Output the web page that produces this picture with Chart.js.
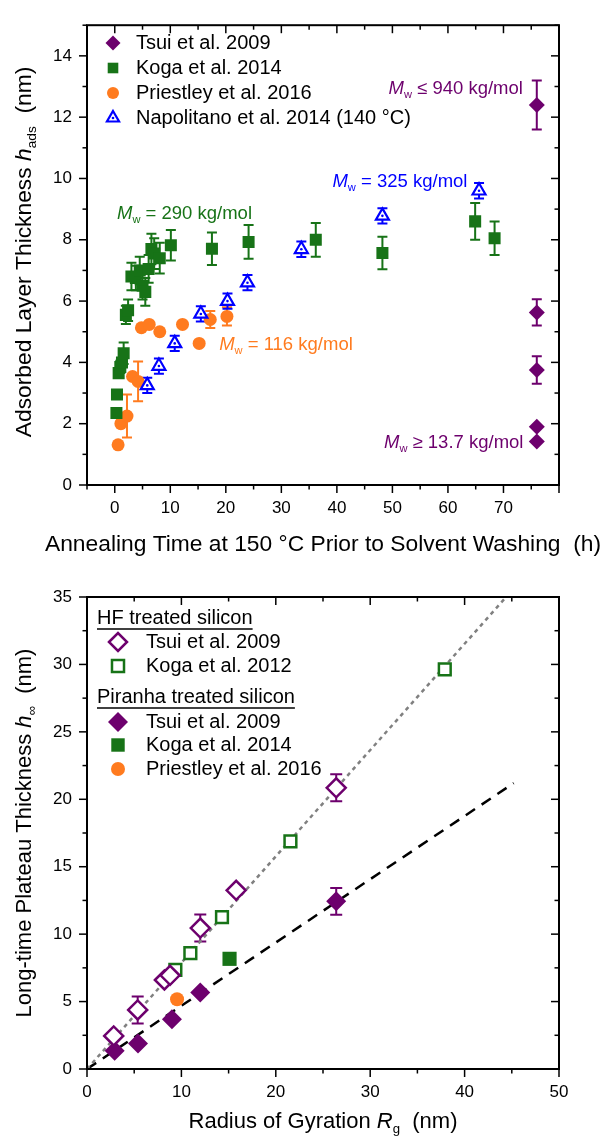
<!DOCTYPE html>
<html>
<head>
<meta charset="utf-8">
<script src="https://cdn.jsdelivr.net/npm/chart.js@4.4.1/dist/chart.umd.min.js"></script>
<style>
  html, body { margin: 0; padding: 0; background: #fff; }
  #wrap { position: relative; width: 605px; height: 1140px; }
  canvas { position: absolute; left: 0; }
  #topChart { top: 0; }
  #bottomChart { top: 560px; }
</style>
</head>
<body>
<div id="wrap">
  <canvas id="topChart" width="605" height="560"></canvas>
  <canvas id="bottomChart" width="605" height="580"></canvas>
</div>
<script>
const PURPLE = '#6d006d';
const GREEN = '#177317';
const ORANGE = '#ff7b1f';
const BLUE = '#0000ff';
const FONT = "'Liberation Sans', Arial, sans-serif";

// ---- upper panel: adsorbed layer vs annealing time ----
const tsuiTime = [76, 76, 76, 76, 76];
const tsuiThick = [12.4, 5.63, 3.75, 1.9, 1.42];
const tsuiErr = [0.8, 0.43, 0.45, 0, 0];

const kogaTime = [0.3, 0.4, 0.7, 1.0, 1.3, 1.6, 2.0, 2.4, 3.0, 3.8, 4.5, 5.0, 5.5, 6.1, 6.6, 7.1, 8.1, 10.1, 17.5, 24.1, 36.2, 48.2, 64.9, 68.4];
const kogaThick = [2.35, 2.95, 3.65, 3.85, 4.0, 4.3, 5.55, 5.7, 6.8, 6.75, 7.0, 6.5, 6.3, 7.05, 7.7, 7.55, 7.4, 7.82, 7.71, 7.93, 8.0, 7.57, 8.6, 8.05];
const kogaErr = [0, 0, 0, 0.2, 0, 0.35, 0.3, 0.35, 0.45, 0.4, 0.45, 0.45, 0.45, 0.45, 0.5, 0.5, 0.5, 0.5, 0.53, 0.55, 0.55, 0.53, 0.6, 0.55];

const priestleyTime = [0.6, 1.1, 2.2, 3.2, 4.2, 4.8, 6.2, 8.1, 12.2, 15.2, 17.2, 20.2];
const priestleyThick = [1.31, 2.0, 2.25, 3.54, 3.38, 5.13, 5.24, 5.0, 5.24, 4.62, 5.4, 5.5];
const priestleyErr = [0, 0, 0.7, 0, 0.65, 0, 0, 0, 0, 0, 0.28, 0.3];

const napTime = [5.85, 7.95, 10.8, 15.5, 20.3, 23.9, 33.6, 48.2, 65.6];
const napThick = [3.25, 3.88, 4.62, 5.58, 6.0, 6.6, 7.69, 8.78, 9.6];
const napErr = [0.25, 0.25, 0.25, 0.25, 0.25, 0.25, 0.25, 0.25, 0.25];

const topXTicks = [0, 10, 20, 30, 40, 50, 60, 70];
const topYTicks = [0, 2, 4, 6, 8, 10, 12, 14];

// ---- lower panel: plateau thickness vs radius of gyration ----
const hfTsuiRg = [2.83, 5.37, 8.2, 8.8, 12.0, 15.8, 26.4];
const hfTsuiH = [2.45, 4.38, 6.6, 6.95, 10.45, 13.25, 20.85];
const hfTsuiErr = [0, 1.0, 0, 0, 1.0, 0, 1.0];

const hfKogaRg = [9.36, 10.95, 14.3, 21.55, 37.9];
const hfKogaH = [7.35, 8.59, 11.26, 16.88, 29.64];

const piTsuiRg = [2.93, 5.4, 9.0, 12.0, 26.4];
const piTsuiH = [1.36, 1.9, 3.69, 5.67, 12.43];
const piTsuiErr = [0, 0, 0, 0, 1.0];

const piKogaRg = [15.1];
const piKogaH = [8.17];

const piPriestleyRg = [9.54];
const piPriestleyH = [5.17];

const hfFitRg = [0, 44.4];
const hfFitH = [0, 35];
const piFitRg = [0, 45.2];
const piFitH = [0, 21.2];

const botXTicks = [0, 10, 20, 30, 40, 50];
const botYTicks = [0, 5, 10, 15, 20, 25, 30, 35];

const pts = (xs, ys) => xs.map((x, i) => ({ x: x, y: ys[i] }));

// text with italic / subscript pieces
function drawRich(ctx, parts, x, y, size, align, color) {
  const fontFor = p => (p.i ? 'italic ' : '') + (p.s ? size * 0.6 : size) + 'px ' + FONT;
  let w = 0;
  parts.forEach(p => { ctx.font = fontFor(p); w += ctx.measureText(p.t).width; });
  let cx = align === 'center' ? x - w / 2 : align === 'right' ? x - w : x;
  ctx.fillStyle = color;
  ctx.textAlign = 'left';
  ctx.textBaseline = 'middle';
  parts.forEach(p => {
    ctx.font = fontFor(p);
    ctx.fillText(p.t, cx, y + (p.s ? size * 0.33 : 0));
    cx += ctx.measureText(p.t).width;
  });
  return w;
}

// frame with inward ticks on top/right, outward on bottom/left
const frameTicks = {
  id: 'frameTicks',
  afterDatasetsDraw(chart, args, o) {
    const { ctx, chartArea: a, scales: { x, y } } = chart;
    const major = (v, m) => Math.abs(v / m - Math.round(v / m)) < 1e-6;
    const line = (x1, y1, x2, y2) => { ctx.beginPath(); ctx.moveTo(x1, y1); ctx.lineTo(x2, y2); ctx.stroke(); };
    ctx.save();
    ctx.strokeStyle = '#000';
    ctx.lineWidth = 1.5;
    const nx = Math.round((x.max - x.min) / o.xMinor);
    for (let i = 0; i <= nx; i++) {
      const v = x.min + i * o.xMinor;
      const px = x.getPixelForValue(v);
      const len = major(v, o.xMajor) ? 8 : 4.5;
      line(px, a.bottom, px, a.bottom + len);
      line(px, a.top, px, a.top + len);
    }
    const ny = Math.round((y.max - y.min) / o.yMinor);
    for (let i = 0; i <= ny; i++) {
      const v = y.min + i * o.yMinor;
      const py = y.getPixelForValue(v);
      const len = major(v, o.yMajor) ? 8 : 4.5;
      line(a.left - len, py, a.left, py);
      line(a.right - len, py, a.right, py);
    }
    ctx.lineWidth = 2;
    ctx.strokeRect(a.left, a.top, a.right - a.left, a.bottom - a.top);
    ctx.restore();
  }
};

// vertical error bars from dataset.errors
const errorBars = {
  id: 'errorBars',
  beforeDatasetsDraw(chart) {
    const { ctx, scales: { y } } = chart;
    ctx.save();
    chart.data.datasets.forEach((ds, di) => {
      if (!ds.errors) return;
      const meta = chart.getDatasetMeta(di);
      ctx.strokeStyle = ds.errColor || ds.borderColor;
      ctx.lineWidth = 2;
      ds.data.forEach((p, i) => {
        const e = ds.errors[i];
        if (!e) return;
        const px = meta.data[i].x;
        const t = y.getPixelForValue(p.y + e);
        const b = y.getPixelForValue(p.y - e);
        const c = ds.capHalf || 5;
        ctx.beginPath();
        ctx.moveTo(px, t); ctx.lineTo(px, b);
        ctx.moveTo(px - c, t); ctx.lineTo(px + c, t);
        ctx.moveTo(px - c, b); ctx.lineTo(px + c, b);
        ctx.stroke();
      });
    });
    ctx.restore();
  }
};

function marker(ctx, ds, x, y, r) {
  ctx.fillStyle = ds.backgroundColor;
  ctx.strokeStyle = ds.borderColor;
  ctx.lineWidth = ds.borderWidth || 0;
  Chart.helpers.drawPoint(ctx, {
    pointStyle: ds.pointStyle, rotation: 0,
    radius: r || ds.pointRadius, borderWidth: ds.borderWidth || 0
  }, x, y);
}

// in-plot legend, annotations and axis titles
const decorations = {
  id: 'decorations',
  afterDraw(chart, args, o) {
    const { ctx, scales: { x, y } } = chart;
    ctx.save();
    (o.legend || []).forEach(e => {
      if (e.heading) {
        const w = drawRich(ctx, [{ t: e.heading }], o.headX, e.y, 20, 'left', '#000');
        ctx.strokeStyle = '#000'; ctx.lineWidth = 1.3;
        ctx.beginPath(); ctx.moveTo(o.headX, e.y + 11); ctx.lineTo(o.headX + w, e.y + 11); ctx.stroke();
        return;
      }
      const ds = chart.data.datasets[e.ds];
      marker(ctx, ds, o.markX, e.y, e.r);
      if (e.dot) {
        ctx.fillStyle = ds.borderColor;
        ctx.beginPath(); ctx.arc(o.markX, e.y, 1.3, 0, Math.PI * 2); ctx.fill();
      }
      drawRich(ctx, [{ t: e.text }], o.textX, e.y, 20, 'left', '#000');
    });
    (o.notes || []).forEach(n => {
      drawRich(ctx, n.parts, x.getPixelForValue(n.x), y.getPixelForValue(n.y), 18.5, n.align, n.color);
    });
    const a = chart.chartArea;
    drawRich(ctx, o.xTitle, (a.left + a.right) / 2, o.xTitleY, o.titleSize, 'center', '#000');
    ctx.translate(o.yTitleX, o.yTitleMid || (a.top + a.bottom) / 2);
    ctx.rotate(-Math.PI / 2);
    drawRich(ctx, o.yTitle, 0, 0, o.titleSize, 'center', '#000');
    ctx.restore();
  }
};

Chart.defaults.font.family = FONT;
Chart.defaults.color = '#000';
Chart.defaults.animation = false;

function axis(min, max, tickList, fixSize, pad) {
  return {
    type: 'linear', min: min, max: max,
    grid: { drawOnChartArea: false, drawTicks: false, display: false },
    border: { display: false },
    ticks: { font: { size: 17 }, color: '#000', padding: pad },
    afterBuildTicks: s => { s.ticks = tickList.map(v => ({ value: v })); },
    afterFit: fixSize
  };
}

const commonPlugins = {
  legend: { display: false },
  tooltip: { enabled: false }
};

new Chart(document.getElementById('topChart'), {
  type: 'scatter',
  data: {
    datasets: [
      { label: 'Tsui et al. 2009', data: pts(tsuiTime, tsuiThick), errors: tsuiErr,
        pointStyle: 'rectRot', pointRadius: 8, backgroundColor: PURPLE, borderColor: PURPLE, borderWidth: 0, capHalf: 5, order: 1 },
      { label: 'Koga et al. 2014', data: pts(kogaTime, kogaThick), errors: kogaErr,
        pointStyle: 'rect', pointRadius: 8.5, backgroundColor: GREEN, borderColor: GREEN, borderWidth: 0, capHalf: 5, order: 2 },
      { label: 'Priestley et al. 2016', data: pts(priestleyTime, priestleyThick), errors: priestleyErr,
        pointStyle: 'circle', pointRadius: 6.5, backgroundColor: ORANGE, borderColor: ORANGE, borderWidth: 0, capHalf: 5, order: 3 },
      { label: 'Napolitano et al. 2014 (140 °C)', data: pts(napTime, napThick), errors: napErr,
        pointStyle: 'triangle', pointRadius: 7.5, backgroundColor: '#fff', borderColor: BLUE, borderWidth: 2.2, capHalf: 5, order: 1 },
      { label: 'centre', data: pts(napTime, napThick),
        pointStyle: 'circle', pointRadius: 1.3, backgroundColor: BLUE, borderColor: BLUE, borderWidth: 0, order: 0 }
    ]
  },
  options: {
    responsive: false,
    devicePixelRatio: 1,
    layout: { padding: { left: 0, right: 46, top: 14, bottom: 0 } },
    scales: {
      x: axis(-5, 80, topXTicks, s => { s.height = 75; }, 13),
      y: axis(0, 15, topYTicks, s => { s.width = 87; }, 15)
    },
    plugins: Object.assign({}, commonPlugins, {
      frameTicks: { xMinor: 5, xMajor: 10, yMinor: 1, yMajor: 2 },
      decorations: {
        markX: 113, textX: 136,
        legend: [
          { ds: 0, y: 43, text: 'Tsui et al. 2009', r: 7.5 },
          { ds: 1, y: 68, text: 'Koga et al. 2014', r: 7.5 },
          { ds: 2, y: 93, text: 'Priestley et al. 2016', r: 6 },
          { ds: 3, y: 118, text: 'Napolitano et al. 2014 (140 °C)', r: 7, dot: true }
        ],
        notes: [
          { x: 0.4, y: 8.86, align: 'left', color: GREEN,
            parts: [{ t: 'M', i: true }, { t: 'w', s: true }, { t: ' = 290 kg/mol' }] },
          { x: 18.8, y: 4.57, align: 'left', color: ORANGE,
            parts: [{ t: 'M', i: true }, { t: 'w', s: true }, { t: ' = 116 kg/mol' }] },
          { x: 39.2, y: 9.9, align: 'left', color: BLUE,
            parts: [{ t: 'M', i: true }, { t: 'w', s: true }, { t: ' = 325 kg/mol' }] },
          { x: 73.5, y: 12.92, align: 'right', color: PURPLE,
            parts: [{ t: 'M', i: true }, { t: 'w', s: true }, { t: ' \u2264 940 kg/mol' }] },
          { x: 73.6, y: 1.37, align: 'right', color: PURPLE,
            parts: [{ t: 'M', i: true }, { t: 'w', s: true }, { t: ' \u2265 13.7 kg/mol' }] }
        ],
        titleSize: 22.8,
        xTitle: [{ t: 'Annealing Time at 150 \u00b0C Prior to Solvent Washing  (h)' }],
        xTitleY: 545,
        yTitle: [{ t: 'Adsorbed Layer Thickness ' }, { t: 'h', i: true }, { t: 'ads', s: true }, { t: '  (nm)' }],
        yTitleX: 25,
        yTitleMid: 252
      }
    })
  },
  plugins: [errorBars, frameTicks, decorations]
});

new Chart(document.getElementById('bottomChart'), {
  type: 'scatter',
  data: {
    datasets: [
      { label: 'Tsui et al. 2009 (HF)', data: pts(hfTsuiRg, hfTsuiH), errors: hfTsuiErr,
        pointStyle: 'rectRot', pointRadius: 9.5, backgroundColor: '#fff', borderColor: PURPLE, borderWidth: 2.5, capHalf: 6, order: 1 },
      { label: 'Koga et al. 2012', data: pts(hfKogaRg, hfKogaH),
        pointStyle: 'rect', pointRadius: 8.3, backgroundColor: '#fff', borderColor: GREEN, borderWidth: 2.5, order: 1 },
      { label: 'Tsui et al. 2009 (Piranha)', data: pts(piTsuiRg, piTsuiH), errors: piTsuiErr,
        pointStyle: 'rectRot', pointRadius: 10, backgroundColor: PURPLE, borderColor: PURPLE, borderWidth: 0, capHalf: 6, order: 1 },
      { label: 'Koga et al. 2014', data: pts(piKogaRg, piKogaH),
        pointStyle: 'rect', pointRadius: 10, backgroundColor: GREEN, borderColor: GREEN, borderWidth: 0, order: 1 },
      { label: 'Priestley et al. 2016', data: pts(piPriestleyRg, piPriestleyH),
        pointStyle: 'circle', pointRadius: 7, backgroundColor: ORANGE, borderColor: ORANGE, borderWidth: 0, order: 1 },
      { type: 'line', label: 'HF fit', data: pts(hfFitRg, hfFitH), showLine: true, pointRadius: 0,
        borderColor: '#808080', borderWidth: 2.5, borderDash: [4, 4], fill: false, order: 10 },
      { type: 'line', label: 'Piranha fit', data: pts(piFitRg, piFitH), showLine: true, pointRadius: 0,
        borderColor: '#000', borderWidth: 2.5, borderDash: [11, 8], fill: false, order: 10 }
    ]
  },
  options: {
    responsive: false,
    devicePixelRatio: 1,
    layout: { padding: { left: 0, right: 46, top: 37, bottom: 0 } },
    scales: {
      x: axis(0, 50, botXTicks, s => { s.height = 71; }, 13),
      y: axis(0, 35, botYTicks, s => { s.width = 87; }, 15)
    },
    plugins: Object.assign({}, commonPlugins, {
      frameTicks: { xMinor: 5, xMajor: 10, yMinor: 2.5, yMajor: 5 },
      decorations: {
        headX: 97, markX: 118, textX: 146,
        legend: [
          { heading: 'HF treated silicon', y: 58 },
          { ds: 0, y: 82, text: 'Tsui et al. 2009', r: 9 },
          { ds: 1, y: 106, text: 'Koga et al. 2012', r: 8.5 },
          { heading: 'Piranha treated silicon', y: 137 },
          { ds: 2, y: 162, text: 'Tsui et al. 2009', r: 10 },
          { ds: 3, y: 185, text: 'Koga et al. 2014', r: 9.5 },
          { ds: 4, y: 209, text: 'Priestley et al. 2016', r: 7 }
        ],
        titleSize: 22,
        xTitle: [{ t: 'Radius of Gyration ' }, { t: 'R', i: true }, { t: 'g', s: true }, { t: '  (nm)' }],
        xTitleY: 562,
        yTitle: [{ t: 'Long-time Plateau Thickness ' }, { t: 'h', i: true }, { t: '\u221e', s: true }, { t: '  (nm)' }],
        yTitleX: 25
      }
    })
  },
  plugins: [errorBars, frameTicks, decorations]
});
</script>
</body>
</html>
